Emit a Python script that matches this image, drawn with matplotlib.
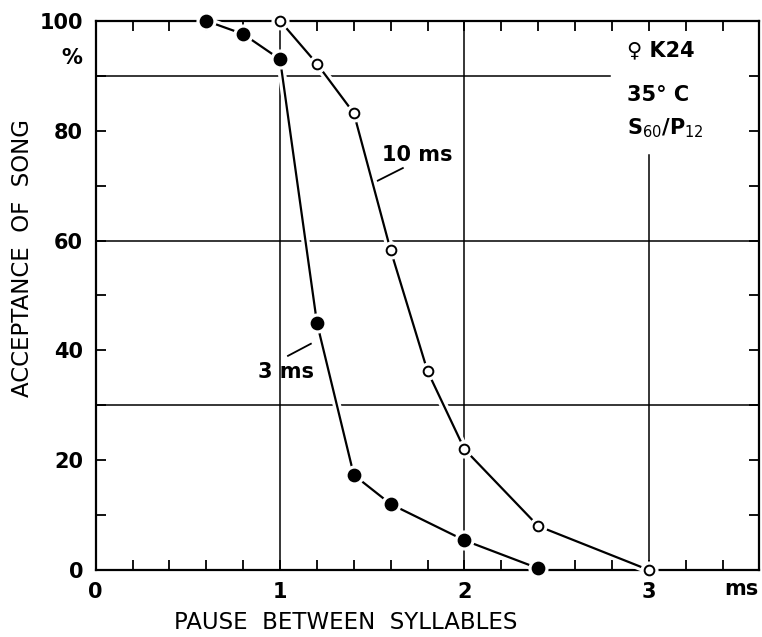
import matplotlib
matplotlib.use("Agg")
import matplotlib.pyplot as plt
import matplotlib.patheffects as pe
from matplotlib.transforms import blended_transform_factory

# Pause between syllables (ms) and acceptance of song (%)
pause_3ms = [0.6, 0.8, 1.0, 1.2, 1.4, 1.6, 2.0, 2.4]
accept_3ms = [100, 97.6, 93.0, 45.0, 17.3, 12.0, 5.4, 0.3]

pause_10ms = [1.0, 1.2, 1.4, 1.6, 1.8, 2.0, 2.4, 3.0]
accept_10ms = [100, 92.2, 83.2, 58.2, 36.2, 22.0, 8.0, 0.0]

x_ticklabels = ["0", "1", "2", "3"]
y_ticklabels = ["0", "20", "40", "60", "80", "100"]

plt.rcParams["font.family"] = ["DejaVu Sans"]

fig = plt.figure(figsize=(7.62, 6.37), dpi=100)
ax = fig.add_axes([0.1256, 0.1052, 0.871, 0.862])
ax.set_xlim(0, 3.6)
ax.set_ylim(0, 100)

# reference lines
ref_kw = dict(color="black", lw=1.1, zorder=1)
ax.plot([1, 1], [0, 100], **ref_kw)
ax.plot([2, 2], [0, 100], **ref_kw)
ax.plot([3, 3], [0, 75.6], **ref_kw)
ax.plot([0, 2.79], [90, 90], **ref_kw)
ax.plot([0, 3.6], [60, 60], **ref_kw)
ax.plot([0, 3.6], [30, 30], **ref_kw)

for sp in ax.spines.values():
    sp.set_linewidth(1.6)

halo = [pe.withStroke(linewidth=6, foreground="white")]

def draw_curve(xs, ys, filled):
    ax.plot(xs, ys, color="black", lw=1.6, zorder=4, clip_on=False,
            path_effects=halo, solid_capstyle="butt")
    ms = 8.5 if filled else 7
    ax.plot(xs, ys, ls="none", marker="o", ms=ms + 5, color="white",
            mec="white", zorder=5, clip_on=False)
    ax.plot(xs, ys, ls="none", marker="o", ms=ms,
            mfc="black" if filled else "white", mec="black", mew=1.4,
            zorder=6, clip_on=False)

draw_curve(pause_3ms, accept_3ms, True)
draw_curve(pause_10ms, accept_10ms, False)

# ticks
ax.set_xticks([i * 0.2 for i in range(18)], minor=True)
ax.set_xticks([0, 1, 2, 3])
ax.set_xticklabels(x_ticklabels)
ax.set_yticks(range(0, 101, 10), minor=True)
ax.set_yticks(range(0, 101, 20))
ax.set_yticklabels(y_ticklabels)
ax.tick_params(which="both", direction="in", top=True, right=True,
               length=7, width=1.3)
ax.tick_params(which="major", labelsize=15, pad=9)
for lab in ax.get_xticklabels() + ax.get_yticklabels():
    lab.set_fontweight("bold")

trans = blended_transform_factory(ax.transAxes, ax.transData)
ax.text(-0.036, 93.3, "%", transform=trans, ha="center", va="center",
        fontsize=15, fontweight="bold")
ax.text(3.5, -3.4, "ms", ha="center", va="center", fontsize=15,
        fontweight="bold", clip_on=False)

ax.set_xlabel("PAUSE  BETWEEN  SYLLABLES", fontsize=16.5, va="center")
ax.xaxis.set_label_coords(0.376, -0.0965)
ax.set_ylabel("ACCEPTANCE  OF  SONG", fontsize=16.5, va="center")
ax.yaxis.set_label_coords(-0.111, 0.568)

# curve labels with leader lines
ax.text(1.742, 75.6, "10 ms", ha="center", va="center", fontsize=15,
        fontweight="bold")
ax.plot([1.530, 1.666], [70.9, 73.2], color="black", lw=1.3)
ax.text(1.032, 36.1, "3 ms", ha="center", va="center", fontsize=15,
        fontweight="bold")
ax.plot([1.043, 1.167], [39.0, 41.2], color="black", lw=1.3)

# experiment conditions
ax.text(2.88, 94.7, "\u2640 K24", ha="left", va="center", fontsize=15,
        fontweight="bold")
ax.text(2.88, 86.5, "35\u00b0 C", ha="left", va="center", fontsize=15,
        fontweight="bold")
ax.text(2.88, 80.5, r"S$_{60}$/P$_{12}$", ha="left", va="center",
        fontsize=15, fontweight="bold")

fig.savefig("out.png", dpi=100)
